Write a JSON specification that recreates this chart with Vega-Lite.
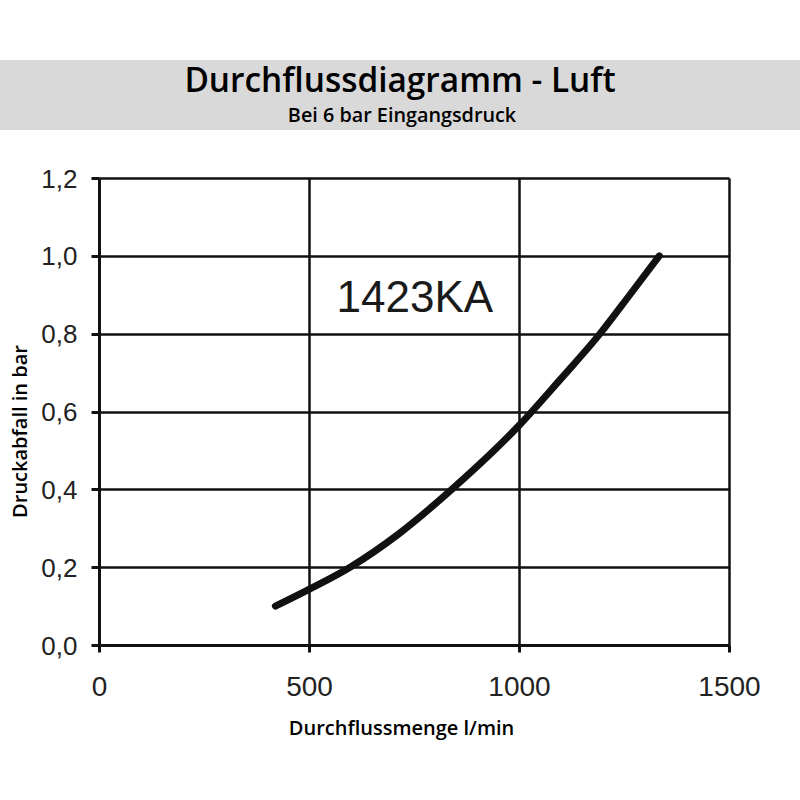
{
  "$schema": "https://vega.github.io/schema/vega-lite/v6.json",
  "padding": {"left": 0, "top": 60, "right": 0, "bottom": 40},
  "spacing": 48,
  "bounds": "flush",
  "center": true,
  "background": "white",
  "config": {"view": {"stroke": null}},
  "datasets": {
    "header": [{"title": "Durchflussdiagramm - Luft", "subtitle": "Bei 6 bar Eingangsdruck"}],
    "curve": [
      {"flow": 420, "dp": 0.100},
      {"flow": 500, "dp": 0.143},
      {"flow": 598, "dp": 0.200},
      {"flow": 713, "dp": 0.285},
      {"flow": 838, "dp": 0.398},
      {"flow": 1000, "dp": 0.564},
      {"flow": 1098, "dp": 0.682},
      {"flow": 1193, "dp": 0.800},
      {"flow": 1264, "dp": 0.900},
      {"flow": 1334, "dp": 1.000}
    ],
    "labels": [{"flow": 752, "dp": 0.856, "name": "1423KA"}]
  },
  "vconcat": [
    {
      "width": 828,
      "height": 70,
      "view": {"fill": "#d9d9d9", "stroke": null},
      "data": {"name": "header"},
      "layer": [
        {
          "mark": {"type": "text", "font": "Open Sans", "fontWeight": 600, "fontSize": 33.4, "baseline": "alphabetic", "align": "center", "dx": -14, "dy": -3, "color": "#000"},
          "encoding": {"text": {"field": "title"}}
        },
        {
          "mark": {"type": "text", "font": "Open Sans", "fontWeight": 600, "fontSize": 19.8, "baseline": "alphabetic", "align": "center", "dx": -12, "dy": 27, "color": "#000"},
          "encoding": {"text": {"field": "subtitle"}}
        }
      ]
    },
    {
      "width": 630,
      "height": 467,
      "layer": [
        {
          "data": {"name": "curve"},
          "mark": {"type": "line", "color": "#111", "strokeWidth": 7, "strokeCap": "round", "strokeJoin": "round", "interpolate": "monotone"},
          "encoding": {
            "x": {
              "field": "flow", "type": "quantitative",
              "scale": {"domain": [0, 1500], "nice": false, "zero": false},
              "axis": {
                "title": "Durchflussmenge l/min",
                "values": [0, 500, 1000, 1500],
                "labelExpr": "format(datum.value, 'd')",
                "grid": true, "gridColor": "#111", "gridWidth": 2.5, "gridOpacity": 1,
                "domain": true, "domainColor": "#111", "domainWidth": 3,
                "ticks": true, "tickSize": 7, "tickWidth": 3, "tickColor": "#111",
                "labelFont": "Liberation Sans", "labelFontSize": 28, "labelColor": "#222",
                "labelPadding": 21, "labelFlush": false, "labelOverlap": false,
                "titleFont": "Open Sans", "titleFontWeight": 600, "titleFontSize": 20, "titleColor": "#000",
                "titleX": 302, "titleY": 89, "titleBaseline": "alphabetic", "titleAlign": "center"
              }
            },
            "y": {
              "field": "dp", "type": "quantitative",
              "scale": {"domain": [0, 1.2], "nice": false, "zero": false},
              "axis": {
                "title": "Druckabfall in bar",
                "values": [0, 0.2, 0.4, 0.6, 0.8, 1.0, 1.2],
                "labelExpr": "replace(format(datum.value, '.1f'), '.', ',')",
                "grid": true, "gridColor": "#111", "gridWidth": 2.5, "gridOpacity": 1,
                "domain": true, "domainColor": "#111", "domainWidth": 3,
                "ticks": true, "tickSize": 8, "tickWidth": 3, "tickColor": "#111",
                "labelFont": "Liberation Sans", "labelFontSize": 26, "labelColor": "#222",
                "labelPadding": 14, "labelOffset": 1, "labelFlush": false, "labelOverlap": false,
                "titleFont": "Open Sans", "titleFontWeight": 600, "titleFontSize": 20, "titleColor": "#000",
                "titleAngle": -90, "titleX": -73, "titleY": 253, "titleBaseline": "alphabetic", "titleAlign": "center"
              }
            }
          }
        },
        {
          "data": {"name": "labels"},
          "mark": {"type": "text", "font": "Liberation Sans", "fontSize": 44, "baseline": "alphabetic", "align": "center", "color": "#1a1a1a"},
          "encoding": {
            "x": {"field": "flow", "type": "quantitative"},
            "y": {"field": "dp", "type": "quantitative"},
            "text": {"field": "name"}
          }
        }
      ]
    }
  ]
}
